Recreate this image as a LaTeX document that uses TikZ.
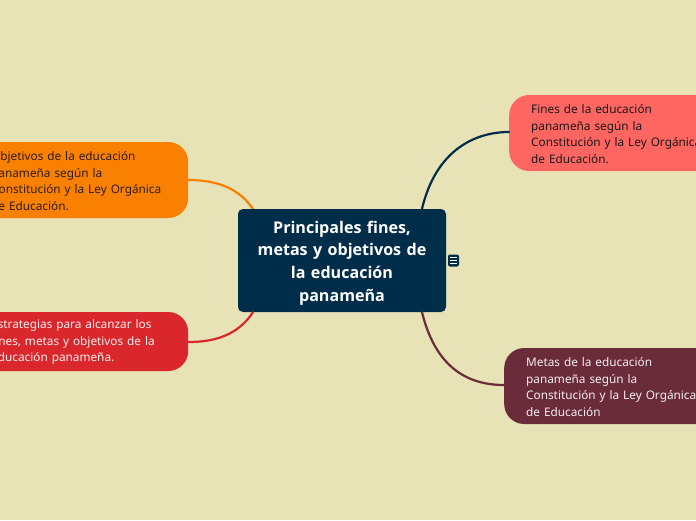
\documentclass[tikz,border=0pt]{standalone}
\usepackage{fontspec}
\setmainfont{Noto Sans}
\newfontfamily\titlefont{Open Sans}
\definecolor{bg}{HTML}{E8E2B7}
\definecolor{navy}{HTML}{002E4A}
\definecolor{orangeb}{HTML}{F98000}
\definecolor{redb}{HTML}{D9272C}
\definecolor{coral}{HTML}{FF6662}
\definecolor{maroon}{HTML}{6A2B3A}
\definecolor{ink}{HTML}{2E1F14}
\tikzset{
  x=1pt,y=-1pt,
  topic/.style={anchor=west,rounded corners=20pt,inner sep=0pt,align=left,minimum width=219pt,text width=175pt,
    text height=10.7pt,
    font=\fontsize{11.8}{16.5}\selectfont},
  link/.style={line width=2.2pt,line cap=round},
}
\begin{document}
\begin{tikzpicture}
\useasboundingbox (0,0) rectangle (696,520);
\clip (0,0) rectangle (696,520);
\fill[bg] (0,0) rectangle (696,520);
\draw[link,orangeb] (188,180) .. controls (220,180) and (240,190) .. (253,209);
\node[fill=navy,rounded corners=5pt,minimum width=208pt,minimum height=103pt,inner sep=0pt,text width=208pt,
  align=center,text=white,text height=17pt,font=\titlefont\fontsize{16.1}{22.7}\selectfont\bfseries] (central) at (342,260.5)
  {Principales fines,\hspace*{5pt}\\metas y objetivos de\hspace*{5pt}\\la educación\hspace*{4pt}\\panameña};
\node[topic,fill=orangeb,text=ink,minimum height=76pt] (orangenode) at (-31,180)
  {Objetivos de la educación\\panameña según la\\Constitución y la Ley Orgánica\\de Educación.};
\node[topic,fill=redb,text=white!92!redb,minimum height=59pt] (rednode) at (-31,341.5)
  {Estrategias para alcanzar los\\fines, metas y objetivos de la\\educación panameña.};
\node[topic,fill=coral,text=black!90,minimum height=76pt] (coralnode) at (509,133)
  {Fines de la educación\\panameña según la\\Constitución y la Ley Orgánica\\de Educación.};
\node[topic,fill=maroon,text=white!92!maroon,minimum height=76pt] (maroonnode) at (504,386)
  {Metas de la educación\\panameña según la\\Constitución y la Ley Orgánica\\de Educación};
\node[fill=navy,rounded corners=2pt,minimum width=11pt,minimum height=12pt,inner sep=0pt] (notes) at (453.5,260.5) {};
\draw[white,line width=0.8pt] (449.8,257.5) -- (457.2,257.5) (449.8,260.5) -- (457.2,260.5) (449.8,263.5) -- (457.2,263.5);
\draw[link,navy] (coralnode.west|-0,132) .. controls (475,132) and (436,150) .. ([xshift=80pt]central.north);
\draw[link,redb] (rednode.east|-0,342) .. controls (215,342) and (238,335) .. ([xshift=-89pt]central.south);
\draw[link,maroon] (maroonnode.west|-0,385) .. controls (465,385) and (435,365) .. ([xshift=80pt]central.south);
\end{tikzpicture}
\end{document}
